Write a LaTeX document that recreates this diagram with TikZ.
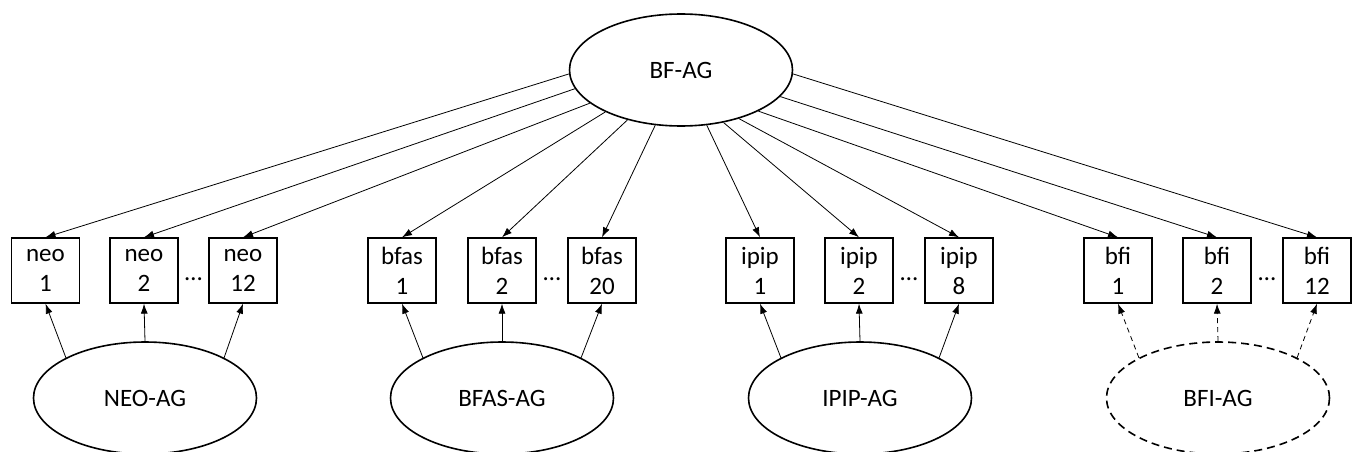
\documentclass[tikz,border=0pt]{standalone}
\usepackage{fontspec}
\setmainfont{Carlito}
\usetikzlibrary{shapes.geometric,arrows.meta}
\tikzset{
  latent/.style={ellipse, draw, line width=1.6pt, minimum width=223pt, minimum height=112pt, inner sep=0pt, font=\fontsize{25}{30}\selectfont},
  item/.style={rectangle, draw, line width=1.3pt, minimum width=68pt, minimum height=65pt, inner sep=0pt, align=center, font=\fontsize{25}{30}\selectfont},
  load/.style={line width=0.8pt, -{Latex[length=10pt,width=7pt]}},
  dload/.style={load, dash pattern=on 5pt off 4pt},
  dots/.style={font=\fontsize{25}{30}\selectfont, inner sep=0pt}
}
\begin{document}
\begin{tikzpicture}[x=1pt,y=-1pt]
\useasboundingbox (0,0) rectangle (1354,452);
% general factor
\node[latent] (bf) at (681,70) {BF-AG};
% items
\node[item] (neo1) at (45.5,270.5) {neo\\1};
\node[item] (neo2) at (144,270.5) {neo\\2};
\node[item] (neo3) at (243,270.5) {neo\\12};
\node[item] (bfas1) at (402,270.5) {bfas\\1};
\node[item] (bfas2) at (502,270.5) {bfas\\2};
\node[item] (bfas3) at (602,270.5) {bfas\\20};
\node[item] (ipip1) at (760,270.5) {ipip\\1};
\node[item] (ipip2) at (859,270.5) {ipip\\2};
\node[item] (ipip3) at (959,270.5) {ipip\\8};
\node[item] (bfi1) at (1118,270.5) {bfi\\1};
\node[item] (bfi2) at (1217,270.5) {bfi\\2};
\node[item] (bfi3) at (1317,270.5) {bfi\\12};
% dots
\node[dots] (d1) at (193.5,279) {…};
\node[dots] (d2) at (552,279) {…};
\node[dots] (d3) at (909,279) {…};
\node[dots] (d4) at (1267,279) {…};
% specific factors
\node[latent] (neo) at (145,398) {NEO-AG};
\node[latent] (bfas) at (502,398) {BFAS-AG};
\node[latent] (ipip) at (860,398) {IPIP-AG};
\node[latent, dash pattern=on 8pt off 5pt] (bfi) at (1218,398) {BFI-AG};
% general loadings
\draw[load] (bf.182) -- (neo1.north);
\draw[load] (bf.190) -- (neo2.north);
\draw[load] (bf.200) -- (neo3.north);
\draw[load] (bf.209) -- (bfas1.north);
\draw[load] (bf.223) -- (bfas2.north);
\draw[load] (bf.245) -- (bfas3.north);
\draw[load] (bf.295) -- (ipip1.north);
\draw[load] (bf.309) -- (ipip2.north);
\draw[load] (bf.320) -- (ipip3.north);
\draw[load] (bf.332) -- (bfi1.north);
\draw[load] (bf.345) -- (bfi2.north);
\draw[load] (bf.358) -- (bfi3.north);
% specific loadings
\draw[load] (neo.153) -- (neo1.south);
\draw[load] (neo.90) -- (neo2.south);
\draw[load] (neo.27) -- (neo3.south);
\draw[load] (bfas.153) -- (bfas1.south);
\draw[load] (bfas.90) -- (bfas2.south);
\draw[load] (bfas.27) -- (bfas3.south);
\draw[load] (ipip.153) -- (ipip1.south);
\draw[load] (ipip.90) -- (ipip2.south);
\draw[load] (ipip.27) -- (ipip3.south);
\draw[dload] (bfi.153) -- (bfi1.south);
\draw[dload] (bfi.90) -- (bfi2.south);
\draw[dload] (bfi.27) -- (bfi3.south);
\end{tikzpicture}
\end{document}
